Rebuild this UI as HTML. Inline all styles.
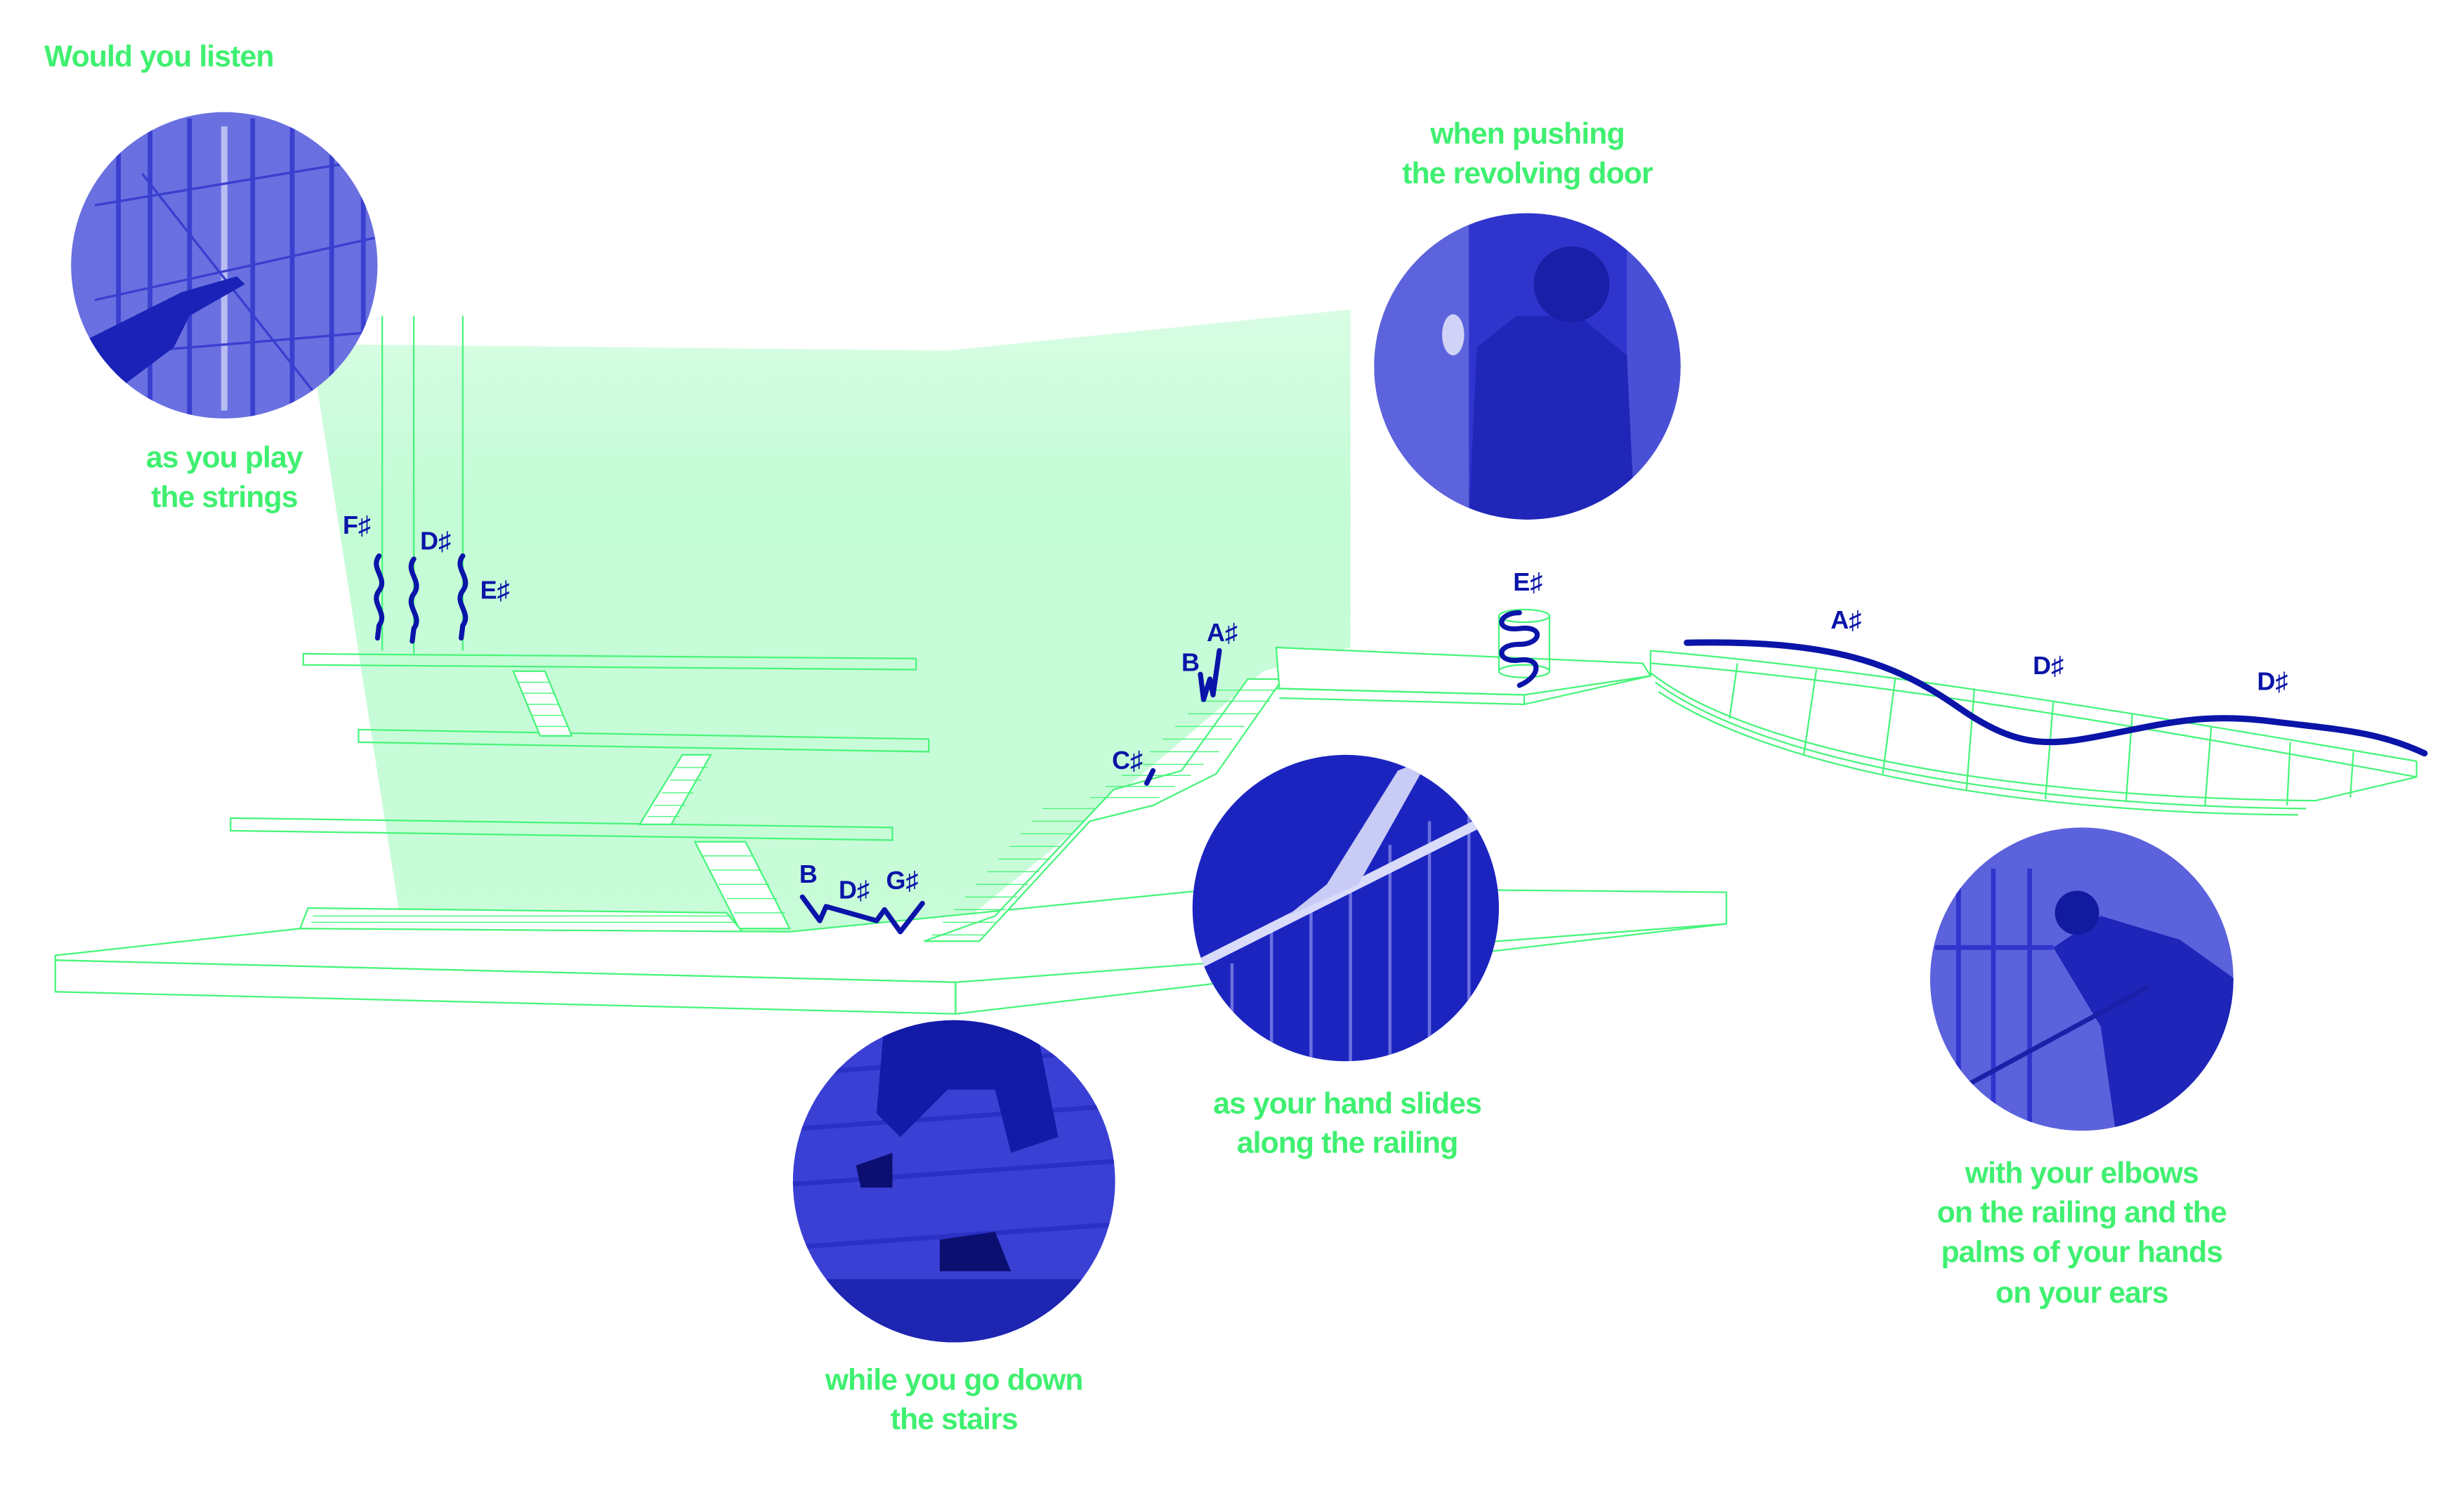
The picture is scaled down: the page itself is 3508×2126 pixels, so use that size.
<!DOCTYPE html>
<html><head><meta charset="utf-8"><style>
html,body{margin:0;padding:0;background:#fff}
svg{display:block}
.g{font-family:"Liberation Sans",sans-serif;font-weight:bold;fill:#3ff070;font-size:19px;letter-spacing:-0.4px}
.n{font-family:"Liberation Sans",sans-serif;font-weight:bold;fill:#0a14a8;font-size:16px}
.w{fill:none;stroke:#46f57a;stroke-width:1}
.b{fill:none;stroke:#0a14a8;stroke-width:3.2;stroke-linecap:round;stroke-linejoin:round}
</style></head><body>
<svg width="3508" height="2126" viewBox="0 0 1560 945.4" preserveAspectRatio="none" xmlns="http://www.w3.org/2000/svg">
<defs>
<linearGradient id="gf" x1="0" y1="0" x2="0" y2="1">
<stop offset="0" stop-color="#d8fde4"/><stop offset="0.3" stop-color="#c4fcd6"/><stop offset="1" stop-color="#c9fcd9"/></linearGradient>
<clipPath id="c1"><circle cx="142" cy="168" r="97"/></clipPath>
<clipPath id="c2"><circle cx="967" cy="232" r="97"/></clipPath>
<clipPath id="c3"><circle cx="852" cy="575" r="97"/></clipPath>
<clipPath id="c4"><circle cx="604" cy="748" r="102"/></clipPath>
<clipPath id="c5"><circle cx="1318" cy="620" r="96"/></clipPath>
</defs>
<polygon points="205,218 600,222 855,196 855,410 800,425 700,510 600,592 255,592 200,240" fill="url(#gf)"/>
<line class="w" x1="242" y1="200" x2="242" y2="412"/>
<line class="w" x1="262" y1="200" x2="262" y2="414"/>
<line class="w" x1="293" y1="200" x2="293" y2="412"/>
<polygon class="w" points="192,414 580,417 580,424 192,421" fill="#fff"/>
<polygon class="w" points="227,462 588,468 588,476 227,470" fill="#fff"/>
<polygon class="w" points="146,518 565,524 565,532 146,526" fill="#fff"/>
<g class="w">
<polygon points="325,425 345,425 362,466 342,466" fill="#fff"/>
<polygon points="432,478 450,478 425,522 405,522" fill="#fff"/>
<polygon points="440,533 472,533 500,588 468,588" fill="#fff"/>
<polygon points="195,575 460,578 470,590 190,588" fill="#fff"/>
</g>
<g stroke="#46f57a" stroke-width="0.6">
<path d="M328,432h20M331,439h20M334,446h20M337,453h20M340,460h20M428,486h20M424,494h20M419,502h20M414,510h20M410,517h20M445,542h32M450,551h32M455,560h32M460,569h32M465,578h32M198,580h265M197,584h268"/>
</g>
<g class="w">
<polygon points="35,605 190,588 500,590 780,562 1093,565 1093,585 605,622 35,608" fill="#fff"/>
<polygon points="35,608 605,622 605,642 35,628" fill="#fff"/>
<line x1="605" y1="642" x2="1093" y2="585"/>
<line x1="605" y1="622" x2="605" y2="642"/>
</g>
<g class="w">
<polygon points="585,596 620,596 690,520 730,510 770,490 812,430 790,430 748,488 705,500 630,580" fill="#fff"/>
</g>
<g stroke="#46f57a" stroke-width="0.6">
<path d="M590,592h34M597,584h33M604,576h33M611,568h33M618,560h33M625,552h33M632,544h33M639,536h33M646,528h33M653,520h33M660,512h33M690,505h44M700,498h44M710,491h44M718,484h44M728,476h44M736,468h44M744,460h44M752,452h44M760,444h44M768,437h40"/>
</g>
<g class="w">
<polygon points="808,410 1040,420 1045,428 965,440 810,436" fill="#fff"/>
<line x1="808" y1="436" x2="965" y2="440"/><line x1="965" y1="440" x2="965" y2="446"/><line x1="810" y1="442" x2="965" y2="446"/><line x1="965" y1="446" x2="1045" y2="428"/>
<ellipse cx="965" cy="390" rx="16" ry="4"/><ellipse cx="965" cy="425" rx="16" ry="4"/>
<line x1="949" y1="390" x2="949" y2="425"/><line x1="981" y1="390" x2="981" y2="425"/>
</g>
<g class="w">
<path d="M1045,412 C1200,425 1400,460 1530,482"/>
<path d="M1045,420 C1200,432 1400,468 1530,492"/>
<path d="M1045,426 C1100,470 1250,505 1466,507 L1530,492"/>
<path d="M1048,432 C1110,478 1260,510 1460,512"/>
<path d="M1050,438 C1120,485 1270,515 1455,516"/>
<line x1="1045" y1="412" x2="1045" y2="428"/><line x1="1530" y1="482" x2="1530" y2="492"/>
<path d="M1100,420 L1095,455 M1150,424 L1142,478 M1200,429 L1192,490 M1250,436 L1245,500 M1300,444 L1295,506 M1350,452 L1346,508 M1400,460 L1396,510 M1450,470 L1448,510 M1490,476 L1488,505"/>
</g>
<path d="M1068,407 C1160,405 1200,420 1240,448 S1300,472 1340,464 S1400,452 1440,457 S1505,463 1535,477" fill="none" stroke="#0a14a8" stroke-width="4" stroke-linecap="round"/>
<path class="b" d="M240,352 c-6,8 6,14 0,22 c-6,8 6,14 0,22 l-1,8"/>
<path class="b" d="M262,354 c-6,8 6,14 0,22 c-6,8 6,14 0,22 l-1,8"/>
<path class="b" d="M293,352 c-6,8 6,14 0,22 c-6,8 6,14 0,22 l-1,8"/>
<path class="b" d="M508,568 L519,583 L523,574 L555,583 L560,576 L570,590 L584,572"/>
<path class="b" d="M760,427 L762,443 L766,430 L768,440 L772,412"/>
<path class="b" d="M730,488 L726,496"/>
<path class="b" d="M962,388 c-14,0 -16,12 0,10 c16,-2 14,10 0,10 c-16,0 -14,12 0,10 c14,-2 14,10 0,16" stroke-width="3"/>
<text class="n" x="217" y="338">F♯</text>
<text class="n" x="266" y="348">D♯</text>
<text class="n" x="304" y="379">E♯</text>
<text class="n" x="506" y="559">B</text>
<text class="n" x="531" y="569">D♯</text>
<text class="n" x="561" y="563">G♯</text>
<text class="n" x="748" y="425">B</text>
<text class="n" x="764" y="406">A♯</text>
<text class="n" x="704" y="487">C♯</text>
<text class="n" x="958" y="374">E♯</text>
<text class="n" x="1159" y="398">A♯</text>
<text class="n" x="1287" y="427">D♯</text>
<text class="n" x="1429" y="437">D♯</text>
<g clip-path="url(#c1)">
<rect x="40" y="70" width="210" height="200" fill="#6a70e0"/>
<g stroke="#3a3fd0" stroke-width="3"><path d="M75,75V265M95,75V265M120,75V265M160,75V265M185,75V265M210,75V265M230,75V265"/></g>
<g stroke="#b8bcf2" stroke-width="4"><path d="M142,80V260"/></g>
<g stroke="#3a3fd0" stroke-width="1.5"><path d="M60,130L240,100M60,190L240,150M60,225L240,210M90,110L200,250"/></g>
<path d="M55,215 L115,185 L150,175 L155,180 L120,200 L110,220 L70,250 Z" fill="#1a22b8"/>
</g>
<g clip-path="url(#c2)">
<rect x="865" y="130" width="205" height="200" fill="#2f35cc"/>
<rect x="870" y="130" width="60" height="200" fill="#5d63dc"/>
<rect x="1030" y="130" width="40" height="200" fill="#4a50d6"/>
<path d="M930,330 L935,220 L960,200 L1000,200 L1030,225 L1035,330 Z" fill="#2026b8"/>
<circle cx="995" cy="180" r="24" fill="#1a1fa8"/>
<ellipse cx="920" cy="212" rx="7" ry="13" fill="#d0d3f7"/>
</g>
<g clip-path="url(#c3)">
<rect x="750" y="475" width="205" height="200" fill="#1c24c0"/>
<g stroke="#6a70e0" stroke-width="2"><path d="M780,610V680M805,590V680M830,570V680M855,550V680M880,535V680M905,520V680M930,505V680"/></g>
<path d="M760,610 L935,522" stroke="#d8dbfa" stroke-width="6"/>
<path d="M815,580 L840,560 L885,488 L905,480 L860,560 Z" fill="#c8cbf5"/>
</g>
<g clip-path="url(#c4)">
<rect x="500" y="645" width="210" height="210" fill="#3a40d4"/>
<g stroke="#2a30c4" stroke-width="3"><path d="M500,680L710,665M500,715L710,700M500,750L710,735M500,790L710,775"/></g>
<path d="M560,645 L655,645 L670,720 L640,730 L630,690 L600,690 L570,720 L555,705 Z" fill="#121aa8"/>
<path d="M542,738 L565,730 L565,752 L545,752 Z M595,785 L630,780 L640,805 L595,805 Z" fill="#0a0f70"/>
<rect x="500" y="810" width="210" height="50" fill="#1e25b0"/>
</g>
<g clip-path="url(#c5)">
<rect x="1220" y="520" width="200" height="200" fill="#5c62dc"/>
<g stroke="#2f35cc" stroke-width="3"><path d="M1240,550V720M1262,550V720M1285,550V720M1225,600H1300"/></g>
<path d="M1300,600 L1330,580 L1380,595 L1415,620 L1415,720 L1340,720 L1330,650 Z" fill="#1e25b8"/>
<circle cx="1315" cy="578" r="14" fill="#121aa0"/>
<path d="M1240,690 L1360,625" stroke="#1a20a8" stroke-width="3"/>
</g>
<text class="g" x="28" y="42">Would you listen</text>
<g class="g" text-anchor="middle">
<text x="142" y="296">as you play</text><text x="142" y="321">the strings</text>
<text x="967" y="91">when pushing</text><text x="967" y="116">the revolving door</text>
<text x="853" y="705">as your hand slides</text><text x="853" y="730">along the railing</text>
<text x="604" y="880">while you go down</text><text x="604" y="905">the stairs</text>
<text x="1318" y="749">with your elbows</text><text x="1318" y="774">on the railing and the</text>
<text x="1318" y="799">palms of your hands</text><text x="1318" y="825">on your ears</text>
</g>
</svg>
</body></html>
